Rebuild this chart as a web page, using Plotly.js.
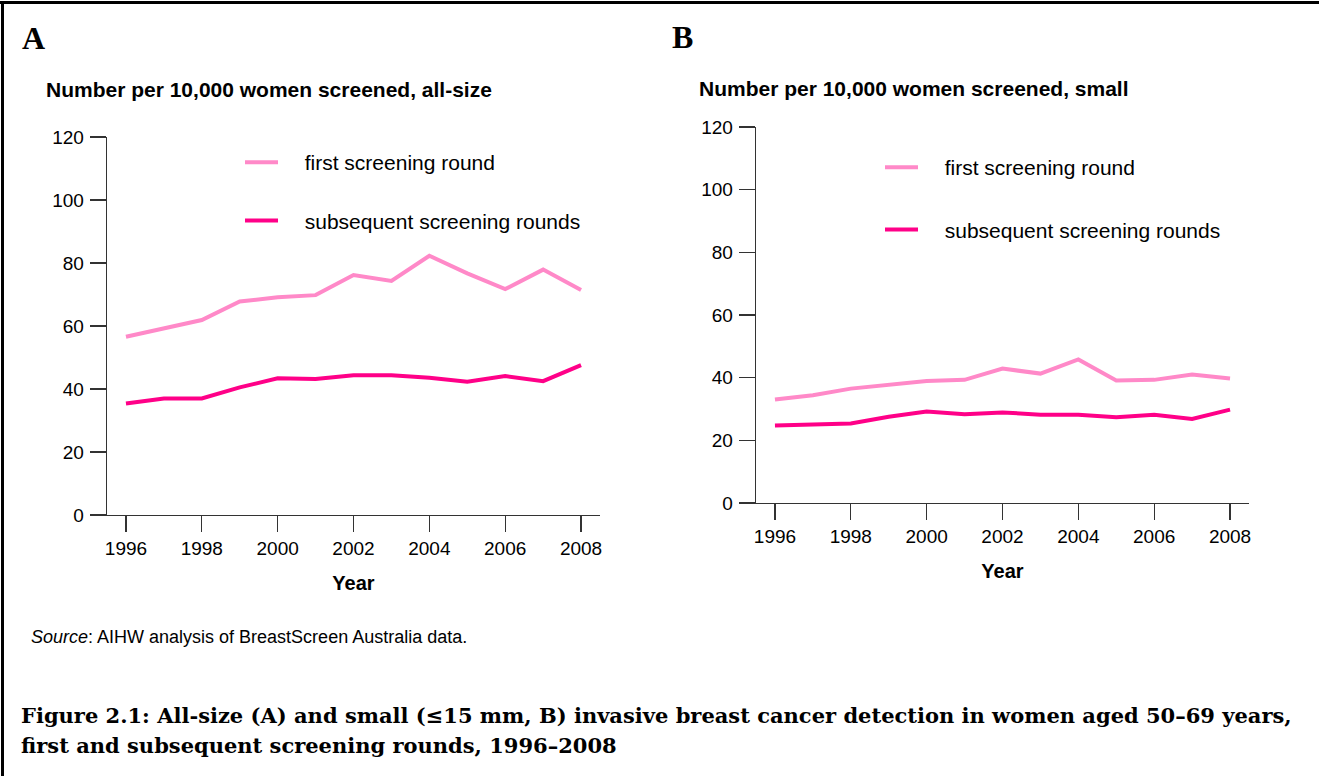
<!DOCTYPE html>
<html>
<head>
<meta charset="utf-8">
<script src="https://cdn.plot.ly/plotly-3.0.1.min.js"></script>
<style>html,body{margin:0;padding:0;background:#fff;}#chart{width:1319px;height:776px;}</style>
</head>
<body>
<div id="chart"></div>
<script>
// ---- data ----
const years = [1996,1997,1998,1999,2000,2001,2002,2003,2004,2005,2006,2007,2008];
const allSizeFirst = [56.6,59.3,61.9,67.8,69.1,69.8,76.2,74.3,82.3,76.7,71.7,77.9,71.4];
const allSizeSubsequent = [35.4,37.0,37.0,40.5,43.4,43.2,44.4,44.4,43.6,42.3,44.1,42.5,47.6];
const smallFirst = [33.0,34.4,36.5,37.8,38.9,39.3,42.9,41.3,45.8,39.1,39.3,41.0,39.7];
const smallSubsequent = [24.7,25.1,25.4,27.5,29.2,28.3,28.9,28.2,28.2,27.4,28.2,26.8,29.8];
const seriesNames = ['first screening round','subsequent screening rounds'];
const xTickVals = [1996,1998,2000,2002,2004,2006,2008];
const yTickVals = [0,20,40,60,80,100,120];
const panelLetters = ['A','B'];
const panelTitles = ['Number per 10,000 women screened, all-size','Number per 10,000 women screened, small'];
const xTitle = 'Year';
const sourceText = '<i>Source</i>: AIHW analysis of BreastScreen Australia data.';
const captionLines = ['Figure 2.1: All-size (A) and small (≤15 mm, B) invasive breast cancer detection in women aged 50–69 years,',
                      'first and subsequent screening rounds, 1996–2008'];

// ---- styling ----
const W = 1319, H = 776;
const px = v => v / W;
const py = v => 1 - v / H;
const cFirst = '#ff89c8';
const cSub = '#ff0088';
const sans = 'Liberation Sans, Arial, sans-serif';
const serif = 'Liberation Serif, Times New Roman, serif';
const capSerif = 'DejaVu Serif, serif';
const pad = '\u00a0\u00a0\u00a0\u2009';

function tr(y, name, color, xa, ya, leg){
  return {x: years, y: y, name: pad + name, type:'scatter', mode:'lines',
    line:{color: color, width: 4}, xaxis: xa, yaxis: ya, legend: leg, legendgroup: name + leg};
}
const data = [
  tr(allSizeFirst, seriesNames[0], cFirst, 'x', 'y', 'legend'),
  tr(allSizeSubsequent, seriesNames[1], cSub, 'x', 'y', 'legend'),
  tr(smallFirst, seriesNames[0], cFirst, 'x2', 'y2', 'legend2'),
  tr(smallSubsequent, seriesNames[1], cSub, 'x2', 'y2', 'legend2')
];

function xax(domain, anchor){
  return {domain: domain, anchor: anchor, range:[1995.5, 2008.5], tickvals: xTickVals,
    ticks:'outside', ticklen:16, tickwidth:1.3, tickcolor:'#333', showline:true, linecolor:'#333', linewidth:1.3,
    showgrid:false, zeroline:false, tickfont:{family:sans, size:19, color:'#000'},
    title:{text:'<b>' + xTitle + '</b>', font:{family:sans, size:20, color:'#000'}, standoff: 18}};
}
function yax(domain, anchor){
  return {domain: domain, anchor: anchor, range:[0,120], tickvals: yTickVals,
    ticks:'outside', ticklen:16, tickwidth:1.3, tickcolor:'#333', showline:true, linecolor:'#333', linewidth:1.3,
    showgrid:false, zeroline:false, tickfont:{family:sans, size:19, color:'#000'}, ticklabelstandoff: 2};
}
function legendAt(x, y, gap){
  return {x: x, y: y, xanchor:'left', yanchor:'top', bgcolor:'rgba(0,0,0,0)', borderwidth:0,
    font:{family:sans, size:21, color:'#000'}, traceorder:'grouped', tracegroupgap: gap, itemwidth: 33};
}

const ann = [
  {text:'<b>' + panelLetters[0] + '</b>', x:px(20), y:py(38), xanchor:'left', yanchor:'middle', font:{family:serif, size:32, color:'#000'}},
  {text:'<b>' + panelLetters[1] + '</b>', x:px(670), y:py(37), xanchor:'left', yanchor:'middle', font:{family:serif, size:32, color:'#000'}},
  {text:'<b>' + panelTitles[0] + '</b>', x:px(44), y:py(89), xanchor:'left', yanchor:'middle', font:{family:sans, size:21, color:'#000'}},
  {text:'<b>' + panelTitles[1] + '</b>', x:px(697), y:py(88), xanchor:'left', yanchor:'middle', font:{family:sans, size:21, color:'#000'}},
  {text: sourceText, x:px(29), y:py(637), xanchor:'left', yanchor:'middle', font:{family:sans, size:18, color:'#000'}},
  {text:'<b>' + captionLines[0] + '</b>', x:px(19), y:py(715), xanchor:'left', yanchor:'middle', font:{family:capSerif, size:21, color:'#000'}},
  {text:'<b>' + captionLines[1] + '</b>', x:px(19), y:py(745), xanchor:'left', yanchor:'middle', font:{family:capSerif, size:21, color:'#000'}}
].map(a => Object.assign({xref:'paper', yref:'paper', showarrow:false}, a));

const layout = {
  width: W, height: H, margin:{l:0, r:0, t:0, b:0}, paper_bgcolor:'#fff', plot_bgcolor:'#fff',
  showlegend: true,
  xaxis: xax([px(107), px(600)], 'y'),
  yaxis: yax([py(515), py(137)], 'x'),
  xaxis2: xax([px(756), px(1249)], 'y2'),
  yaxis2: yax([py(503), py(127)], 'x2'),
  legend: legendAt(px(240), py(142), 28),
  legend2: legendAt(px(880), py(147), 32),
  annotations: ann,
  shapes: [
    {type:'line', xref:'paper', yref:'paper', x0:0, x1:1, y0:py(2.5), y1:py(2.5), line:{color:'#000', width:3}},
    {type:'line', xref:'paper', yref:'paper', x0:px(2.5), x1:px(2.5), y0:0, y1:py(1), line:{color:'#000', width:3}}
  ]
};

Plotly.newPlot('chart', data, layout, {displayModeBar:false, staticPlot:true});
</script>
</body>
</html>
